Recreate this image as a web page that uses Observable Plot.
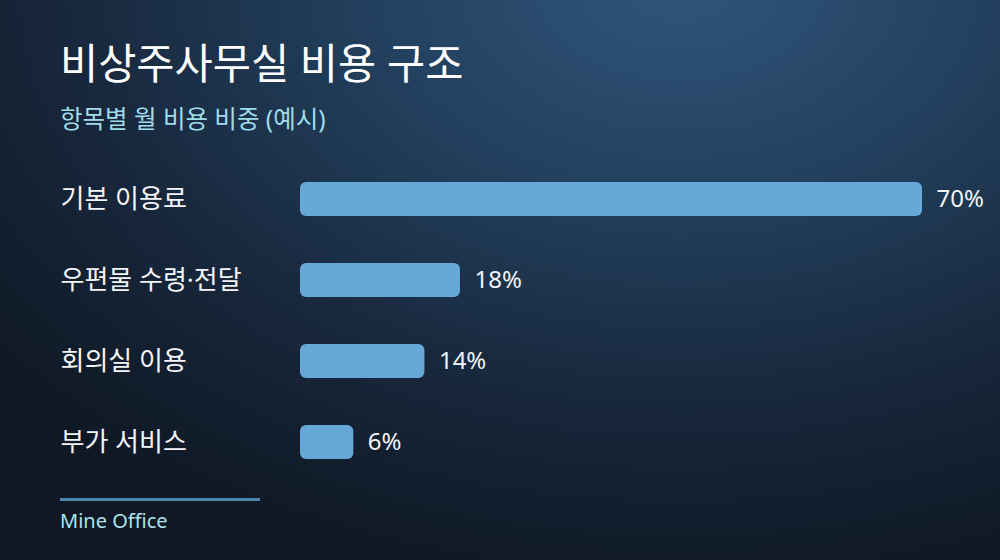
<!DOCTYPE html>
<html lang="ko">
<head>
<meta charset="utf-8">
<script src="https://cdn.jsdelivr.net/npm/d3@7"></script>
<script src="https://cdn.jsdelivr.net/npm/@observablehq/plot@0.6"></script>
<style>
  html, body { margin: 0; padding: 0; background: #111a27; }
  #page {
    position: relative; width: 1000px; height: 560px; overflow: hidden;
    background: radial-gradient(ellipse 900px 620px at 680px -20px, #30557a 0%, #22405e 35%, #17263a 70%, #0f1824 100%);
    font-family: "Noto Sans", "Noto Sans CJK KR", sans-serif;
  }
  #title { position: absolute; left: 60px; top: 39px; margin: 0; font-size: 41.5px; font-weight: 400; color: #ffffff; line-height: 1.2; }
  #subtitle { position: absolute; left: 60px; top: 104px; margin: 0; font-size: 24.5px; font-weight: 400; color: #9fdcea; line-height: 1.2; }
  #chart { position: absolute; left: 0; top: 150px; }
  #rule { position: absolute; left: 60px; top: 498px; width: 200px; height: 3px; background: #4d84ad; }
  #caption { position: absolute; left: 60px; top: 509px; font-size: 20px; font-weight: 400; color: #a9e4ee; line-height: 1.2; }
</style>
</head>
<body>
<div id="page">
  <div id="title">비상주사무실 비용 구조</div>
  <div id="subtitle">항목별 월 비용 비중 (예시)</div>
  <div id="chart"></div>
  <div id="rule"></div>
  <div id="caption">Mine Office</div>
</div>
<script>
const categories = ["기본 이용료", "우편물 수령·전달", "회의실 이용", "부가 서비스"];
const values = [70, 18, 14, 6];
const labels = ["70%", "18%", "14%", "6%"];

const data = categories.map((c, i) => ({ category: c, value: values[i], label: labels[i] }));

const chart = Plot.plot({
  width: 1000,
  height: 330,
  marginLeft: 300,
  marginRight: 78,
  marginTop: 30,
  marginBottom: 20,
  style: { background: "transparent", fontFamily: "'Noto Sans', 'Noto Sans CJK KR', sans-serif", overflow: "visible" },
  x: { domain: [0, 70], axis: null },
  y: { domain: categories, axis: null, paddingInner: 0.585, paddingOuter: 0 },
  marks: [
    Plot.barX(data, { x: "value", y: "category", fill: "#66a9d9", rx: 6 }),
    Plot.text(data, { y: "category", text: "category", frameAnchor: "left", dx: -240, textAnchor: "start", fill: "#f2f4f7", fontSize: 26 }),
    Plot.text(data, { x: "value", y: "category", text: "label", dx: 14, textAnchor: "start", fill: "#f2f4f7", fontSize: 24 })
  ]
});
document.getElementById("chart").appendChild(chart);
</script>
</body>
</html>
